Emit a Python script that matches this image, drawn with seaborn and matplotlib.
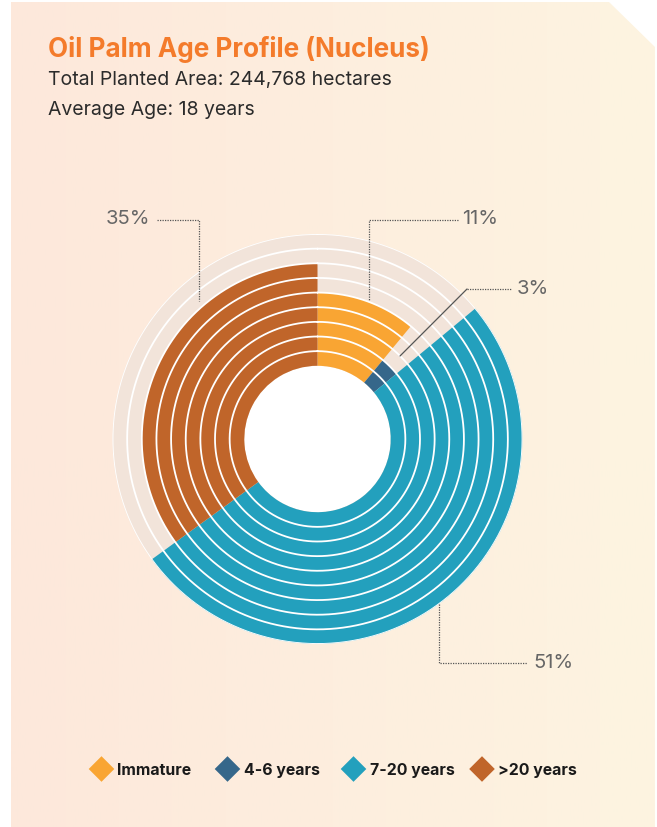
import numpy as np
import matplotlib
matplotlib.use("Agg")
import matplotlib.pyplot as plt
import seaborn as sns
import pandas as pd
from matplotlib.patches import Polygon
from matplotlib.colors import LinearSegmentedColormap

# ---- data ----
categories = ["Immature", "4-6 years", "7-20 years", ">20 years"]
shares = [11, 3, 51, 35]            # percent of planted area
rings_filled = [5, 2, 9, 7]         # number of concentric rings filled per category
colors = ["#f9a533", "#36678a", "#23a0bd", "#c0652a"]
pct_labels = ["11%", "3%", "51%", "35%"]
n_rings = 9
title = "Oil Palm Age Profile (Nucleus)"
subtitle1 = "Total Planted Area: 244,768 hectares"
subtitle2 = "Average Age: 18 years"

sns.set_theme(style="white")
plt.rcParams['font.family'] = ['Inter', 'DejaVu Sans']

W, H = 657, 828
fig = plt.figure(figsize=(W / 100, H / 100), dpi=100)
fig.patch.set_facecolor('white')

# ---- background panel with gradient and cut corner ----
bg = fig.add_axes([0, 0, 1, 1], zorder=0)
bg.set_xlim(0, W)
bg.set_ylim(H, 0)
bg.axis('off')
grad = np.linspace(0, 1, 256).reshape(1, -1)
cmap = LinearSegmentedColormap.from_list('bg', ['#fde8db', '#fdf4e1'])
im = bg.imshow(grad, cmap=cmap, extent=[11, 655, 828, 3], aspect='auto', zorder=0)
poly = Polygon([[11, 3], [609, 3], [655, 48], [655, 828], [11, 828]], closed=True,
               transform=bg.transData, facecolor='none', edgecolor='none')
bg.add_patch(poly)
im.set_clip_path(poly)
bg.set_xlim(0, W)
bg.set_ylim(H, 0)

# ---- radial ring chart ----
cx, cy, R = 317.5, 440, 205
pax = fig.add_axes([(cx - R) / W, (H - cy - R) / H, 2 * R / W, 2 * R / H],
                   projection='polar', zorder=1)
pax.set_theta_zero_location('N')
pax.set_theta_direction(-1)
inner = 5
pax.set_ylim(0, inner + n_rings)
pax.axis('off')
pax.patch.set_alpha(0)

full = 2 * np.pi
pax.bar(np.pi, inner, width=full, bottom=0, color='white', linewidth=0)
for k in range(n_rings):
    pax.bar(np.pi, 1, width=full, bottom=inner + k, color='#f2e4da', linewidth=0)

df = pd.DataFrame({"cat": categories, "share": shares, "rings": rings_filled, "color": colors})
df["end"] = np.cumsum(df["share"]) / 100 * full
df["start"] = df["end"] - df["share"] / 100 * full
for _, row in df.iterrows():
    w = row["end"] - row["start"]
    for k in range(row["rings"]):
        pax.bar(row["start"] + w / 2, 1, width=w, bottom=inner + k,
                color=row["color"], linewidth=0)

th = np.linspace(0, full, 720)
for k in range(1, n_rings + 1):
    pax.plot(th, np.full_like(th, inner + k), color='white', lw=1.3)

# ---- overlay for text, leader lines and legend ----
ov = fig.add_axes([0, 0, 1, 1], zorder=2)
ov.patch.set_alpha(0)

ov.text(48, 57, title, color='#f47b2b', fontsize=18.8, fontweight='bold', va='baseline', ha='left')
ov.text(48, 85, subtitle1, color='#2b2b2b', fontsize=14, va='baseline', ha='left')
ov.text(48, 115, subtitle2, color='#2b2b2b', fontsize=14, va='baseline', ha='left')

lc = '#555555'
dot = (0, (1, 1))
pc = '#666666'
# 35%
ov.plot([157, 199, 199], [221, 221, 302], color=lc, lw=0.9, ls=dot)
ov.text(128, 224, pct_labels[3], color=pc, fontsize=14.5, ha='center', va='baseline')
# 11%
ov.plot([458, 369, 369], [221, 221, 302], color=lc, lw=0.9, ls=dot)
ov.text(480, 224, pct_labels[0], color=pc, fontsize=14.5, ha='center', va='baseline')
# 3%
ov.plot([400, 467], [357, 290], color=lc, lw=0.9)
ov.plot([467, 512], [290, 290], color=lc, lw=0.9, ls=dot)
ov.text(533, 294, pct_labels[1], color=pc, fontsize=14.5, ha='center', va='baseline')
# 51%
ov.plot([439, 439, 527], [605, 664, 664], color=lc, lw=0.9, ls=dot)
ov.text(553, 668, pct_labels[2], color=pc, fontsize=14.5, ha='center', va='baseline')

# ---- legend ----
leg_x = [101.5, 227.5, 353.5, 482]
leg = pd.DataFrame({"x": leg_x, "y": [770] * 4, "cat": categories})
sns.scatterplot(data=leg, x="x", y="y", hue="cat", palette=colors, hue_order=categories,
                marker='D', s=170, linewidth=0, ax=ov, legend=False, zorder=5)
for x, c in zip(leg_x, categories):
    ov.text(x + 16, 775, c, color='#1a1a1a', fontsize=11.4, fontweight='bold', ha='left', va='baseline')
ov.set_xlim(0, W)
ov.set_ylim(H, 0)
ov.axis('off')

fig.savefig("out.png", dpi=100, facecolor='white')
